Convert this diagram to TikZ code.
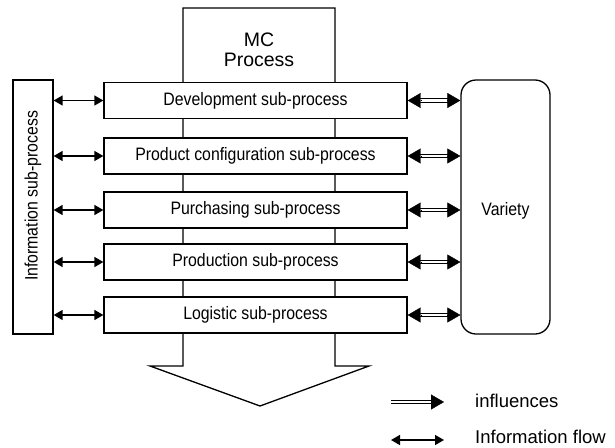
\documentclass[tikz,border=0pt]{standalone}
\usepackage{fontspec}
\setmainfont{Liberation Sans}
\newfontfamily\narrowsf[FakeStretch=0.88]{Liberation Sans}
\usetikzlibrary{positioning}
\usetikzlibrary{arrows.meta}
\tikzset{>={Triangle[length=9pt,width=10pt]}}
\tikzset{
	x=1pt,y=-1pt,
	% boxes
	subbox/.style={draw=black,fill=white,line width=1.3pt,minimum width=303pt,minimum height=36pt,inner sep=0pt,font=\narrowsf\fontsize{18}{20}\selectfont},
	sidebox/.style={draw=black,fill=white,line width=1.3pt,minimum height=40pt,minimum width=254pt,inner sep=0pt,font=\narrowsf\fontsize{18}{20}\selectfont},
	sidetext/.style={inner sep=0pt,font=\narrowsf\fontsize{18}{20}\selectfont},
	% connectors
	info/.style={line width=1.5pt,<->},
	infltip/.style={line width=0.4pt,-{Triangle[length=13pt,width=15pt]}},
	inflline/.style={double,double distance=2.4pt,line width=1pt},
	legend/.style={anchor=west,inner sep=0pt,font=\fontsize{18.5}{20}\selectfont},
}
\begin{document}
\begin{tikzpicture}
\useasboundingbox (0,0) rectangle (615,447);
% the big process arrow
\draw[line width=1.3pt,line join=miter] (183,8) -- (335,8) -- (335,366) -- (369,366) -- (260,406) -- (150,366) -- (183,366) -- cycle;
\node[align=center,font=\fontsize{19.5}{20}\selectfont] (mc) at (259,50) {MC\\Process};
% the sub-processes
\node[subbox] (s1) at (255.5,100.5) {Development sub-process};
\node[subbox] (s2) at (255.5,156) {Product configuration sub-process};
\node[subbox] (s3) at (255.5,210) {Purchasing sub-process};
\node[subbox] (s4) at (255.5,262) {Production sub-process};
\node[subbox] (s5) at (255.5,315) {Logistic sub-process};
% side boxes
\node[sidebox,rotate=90] (inf) at (33,207) {};
\node[sidetext,rotate=90] (inftext) at ([yshift=11pt]inf.center) {Information sub-process};
\node[sidebox,minimum width=89pt,minimum height=254pt,rounded corners=15pt] (var) at (505.5,207) {};
\node[sidetext] (vartext) at ([yshift=-4pt]var.center) {Variety};
% arrows
\foreach \s in {s1,s2,s3,s4,s5} {
  \draw[info] (\s.west -| inf.south) -- (\s.west);
  \draw[inflline,shorten <=8pt,shorten >=8pt] (\s.east) -- (\s.east -| var.west);
  \draw[infltip] ([xshift=13pt]\s.east) -- (\s.east);
  \draw[infltip] ([xshift=-13pt]\s.east -| var.west) -- (\s.east -| var.west);
}
% legend
\node[legend] (linfl) at (475,401) {influences};
\node[legend] (lflow) at (475,437) {Information flow};
\coordinate (a1) at (391,402);
\coordinate (a2) at (444,402);
\coordinate (b1) at (391,440);
\coordinate (b2) at (444,440);
\draw[inflline,shorten >=8pt] (a1) -- (a2);
\draw[infltip] ([xshift=-13pt]a2) -- (a2);
\draw[info] (b1) -- (b2);
\end{tikzpicture}
\end{document}
